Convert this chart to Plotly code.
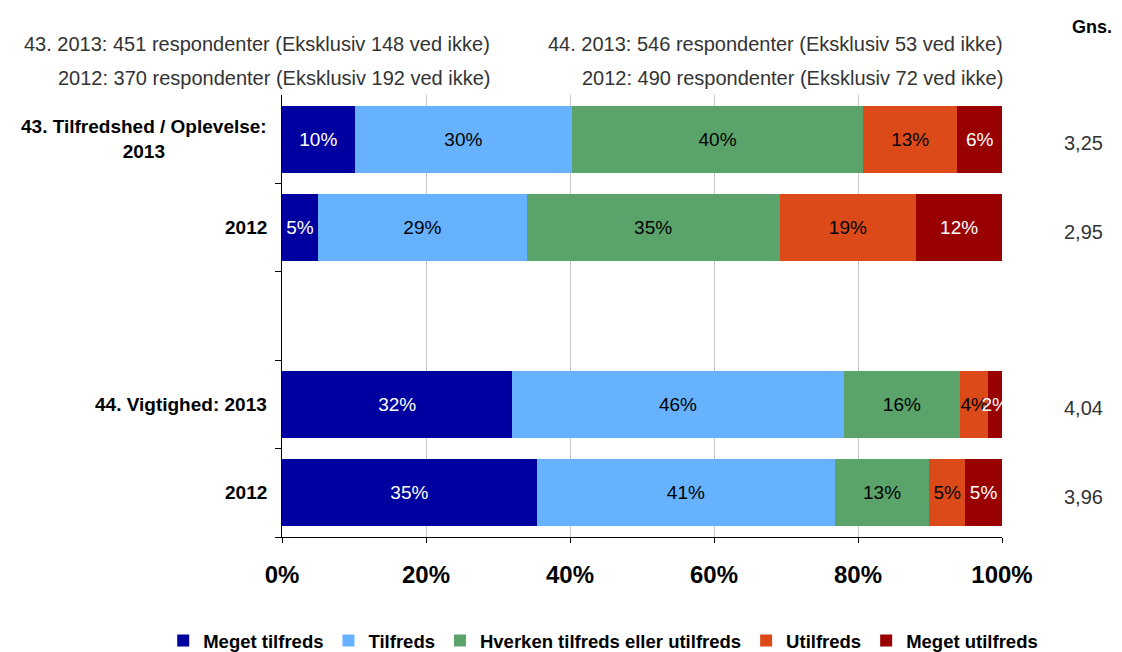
import plotly.graph_objects as go

# rows of the chart (top to bottom), gap row at position 2 is empty
row_pos = [0, 1, 3, 4]
row_labels = ["43. Tilfredshed / Oplevelse:<br>2013", "2012", "44. Vigtighed: 2013", "2012"]
gns = ["3,25", "2,95", "4,04", "3,96"]

categories = ["Meget tilfreds", "Tilfreds", "Hverken tilfreds eller utilfreds",
              "Utilfreds", "Meget utilfreds"]
colors = ["#0000A0", "#66B2FF", "#5AA36A", "#DD4A1A", "#990000"]
text_colors = ["white", "black", "black", "black", "white"]

# percentages per category, one value per row
meget_tilfreds = [10.1, 5.0, 32.0, 35.4]
tilfreds = [30.2, 29.0, 46.0, 41.4]
hverken = [40.4, 35.1, 16.2, 13.1]
utilfreds = [13.1, 19.0, 3.9, 5.0]
meget_utilfreds = [6.2, 11.9, 1.9, 5.1]
series = [meget_tilfreds, tilfreds, hverken, utilfreds, meget_utilfreds]

notes_43 = ["43. 2013: 451 respondenter (Eksklusiv 148 ved ikke)",
            "2012: 370 respondenter (Eksklusiv 192 ved ikke)"]
notes_44 = ["44. 2013: 546 respondenter (Eksklusiv 53 ved ikke)",
            "2012: 490 respondenter (Eksklusiv 72 ved ikke)"]

FONT = "Liberation Sans, Arial, sans-serif"

fig = go.Figure()
for name, vals, col, tcol in zip(categories, series, colors, text_colors):
    fig.add_trace(go.Bar(
        y=row_pos, x=vals, name=name, orientation="h",
        marker=dict(color=col, line=dict(width=0)),
        width=0.76,
        text=[f"{round(v)}%" for v in vals],
        textposition="inside", insidetextanchor="middle", textangle=0,
        constraintext="none",
        insidetextfont=dict(color=tcol, size=19, family=FONT),
        hoverinfo="skip",
    ))

annotations = []
# row labels on the left
for p, lab in zip(row_pos, row_labels):
    annotations.append(dict(
        x=0, xref="paper", y=p, yref="y", xanchor="right", yanchor="middle",
        xshift=-13, text=f"<b>{lab}</b>", showarrow=False, align="center",
        font=dict(size=19, color="black", family=FONT)))
# average values on the right
for p, g in zip(row_pos, gns):
    annotations.append(dict(
        x=1.1125, xref="paper", y=p, yref="y", xanchor="center", yanchor="middle",
        yshift=-4, text=g, showarrow=False,
        font=dict(size=20, color="#333333", family=FONT)))
annotations.append(dict(
    x=1.155, xref="paper", y=1.154, yref="paper", xanchor="right", yanchor="middle",
    text="<b>Gns.</b>", showarrow=False, font=dict(size=18, color="black", family=FONT)))
# respondent notes on top
for xpos, notes in [(0.2917, notes_43), (1.004, notes_44)]:
    for i, t in enumerate(notes):
        annotations.append(dict(
            x=xpos, xref="paper", y=1.115 - i * 0.077, yref="paper",
            xanchor="right", yanchor="middle", text=t, showarrow=False,
            font=dict(size=20, color="#333333", family=FONT)))

# page body adds an 8px margin, so the figure is 8px smaller and shifted
fig.update_layout(
    width=1114, height=644,
    margin=dict(l=274, r=120, t=87, b=115, autoexpand=False),
    barmode="stack",
    plot_bgcolor="white", paper_bgcolor="white",
    font=dict(family=FONT, color="black"),
    showlegend=True,
    legend=dict(orientation="h", x=-0.165, xanchor="left", y=-0.235, yanchor="middle",
                font=dict(size=18.5, color="black", family=FONT, weight="bold"),
                traceorder="normal", tracegroupgap=0),
    annotations=annotations,
    xaxis=dict(range=[0, 100], tickvals=[0, 20, 40, 60, 80, 100],
               ticktext=["0%", "20%", "40%", "60%", "80%", "100%"],
               showgrid=True, gridcolor="#C8C8C8", gridwidth=1,
               showline=True, linecolor="black", linewidth=1,
               ticks="outside", ticklen=5, tickcolor="black",
               tickfont=dict(size=24, color="black", family=FONT, weight="bold"),
               ticklabelstandoff=11, zeroline=False, fixedrange=True),
    yaxis=dict(range=[4.5, -0.5], tickvals=[0.5, 1.5, 2.5, 3.5, 4.5],
               ticktext=["", "", "", "", ""],
               showgrid=False, zeroline=False,
               showline=True, linecolor="black", linewidth=1,
               ticks="outside", ticklen=6, tickcolor="black", fixedrange=True),
)

fig.write_html("out.html")
